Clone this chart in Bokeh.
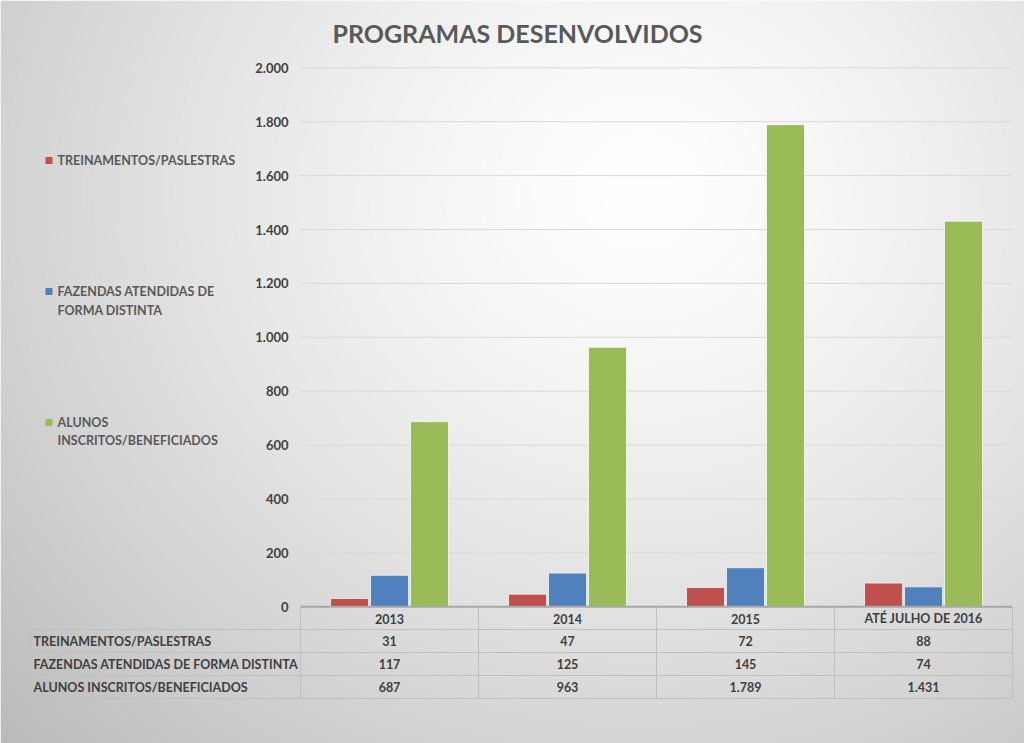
import numpy as np
from bokeh.plotting import figure
from bokeh.models import Range1d
from bokeh.core.properties import value
from bokeh.embed import file_html
from bokeh.resources import INLINE

# ---------------- data ----------------
categories = ["2013", "2014", "2015", "ATÉ JULHO DE 2016"]
series_names = ["TREINAMENTOS/PASLESTRAS", "FAZENDAS ATENDIDAS DE FORMA DISTINTA", "ALUNOS INSCRITOS/BENEFICIADOS"]
treinamentos = [31, 47, 72, 88]
fazendas = [117, 125, 145, 74]
alunos = [687, 963, 1789, 1431]
y_ticks = [0, 200, 400, 600, 800, 1000, 1200, 1400, 1600, 1800, 2000]
legend_lines = [["TREINAMENTOS/PASLESTRAS"], ["FAZENDAS ATENDIDAS DE", "FORMA DISTINTA"], ["ALUNOS", "INSCRITOS/BENEFICIADOS"]]
title_text = "PROGRAMAS DESENVOLVIDOS"

# ---------------- layout ----------------
W, H = 1024, 743
OFF = 0
colors = ["#C0504D", "#4F81BD", "#9BBB59"]
FONT = value("Lato")
TXT = "#404040"
FS = "12.5px"


def X(xr):
    return xr - OFF


def Y(yr):
    return H - (yr - OFF)


COL0 = 300      # reference x of category 0 left edge
COLW = 178.0    # width of a category column
ZERO_Y = 606.3  # reference y of value 0
TOP_Y = 67.3    # reference y of value 2000
pxu = (ZERO_Y - TOP_Y) / 2000.0

p = figure(width=W, height=H, x_range=Range1d(0, W), y_range=Range1d(0, H),
           x_axis_type=None, y_axis_type=None, output_backend="svg",
           toolbar_location=None, min_border=0, outline_line_color=None)
p.background_fill_color = None
p.border_fill_color = "white"

p.extra_x_ranges = {"cat": Range1d(-X(COL0) / COLW, (W - X(COL0)) / COLW)}
zb = Y(ZERO_Y)
p.extra_y_ranges = {"val": Range1d(-zb / pxu, (H - zb) / pxu)}

# background radial gradient
yy, xx = np.mgrid[0:H, 0:W]
ref_x = xx + OFF
ref_y = (H - 1 - yy) + OFF
cx, cy = 640.0, 190.0
r = np.sqrt(((ref_x - cx) / 1.0) ** 2 + ((ref_y - cy) / 0.9) ** 2)
v = 255 - 62 * np.clip(r / 820.0, 0, 1.3) ** 1.35
v = np.clip(v, 0, 255).astype(np.uint32)
img = np.empty((H, W), dtype=np.uint32)
view = img.view(dtype=np.uint8).reshape((H, W, 4))
view[:, :, 0] = v
view[:, :, 1] = v
view[:, :, 2] = v
view[:, :, 3] = 255
p.image_rgba(image=[img], x=0, y=0, dw=W, dh=H)

# title
p.text(x=[X(517)], y=[Y(32)], text=[title_text], text_font=FONT, text_font_size="25px",
       text_font_style="bold", text_color="#595959", text_align="center", text_baseline="middle")

# gridlines
grid_vals = [t for t in y_ticks if t > 0]
p.segment(x0=[0] * len(grid_vals), x1=[4] * len(grid_vals), y0=grid_vals, y1=grid_vals,
          x_range_name="cat", y_range_name="val", line_color="#d9d9d9", line_width=1)

# tick labels
p.text(x=[X(288)] * len(y_ticks), y=y_ticks, text=[f"{t:,}".replace(",", ".") for t in y_ticks],
       y_range_name="val", text_font=FONT, text_font_size="13px", text_font_style="bold",
       text_color=TXT, text_align="right", text_baseline="middle")

# bars
series = [treinamentos, fazendas, alunos]
bw = 38 / COLW
offs = [-40 / COLW, 0, 40 / COLW]
for s, c, o in zip(series, colors, offs):
    xs = [i + 0.5 + o for i in range(len(categories))]
    p.vbar(x=xs, top=s, bottom=0, width=bw, x_range_name="cat", y_range_name="val",
           fill_color=c, line_color="white", line_alpha=0.7, line_width=1)

# zero / table top line
p.segment(x0=[0], x1=[4], y0=[0], y1=[0], x_range_name="cat", y_range_name="val",
          line_color="#a6a6a6", line_width=2)

# table lines
TL = "#bfbfbf"
row_lines = [629, 652, 675, 698]
p.segment(x0=[X(29)] * len(row_lines), x1=[X(1012)] * len(row_lines),
          y0=[Y(r_) for r_ in row_lines], y1=[Y(r_) for r_ in row_lines], line_color=TL, line_width=1)
p.segment(x0=[X(29)], x1=[X(29)], y0=[Y(629)], y1=[Y(698)], line_color=TL, line_width=1)
bounds = list(range(len(categories) + 1))
p.segment(x0=bounds, x1=bounds, y0=[Y(606)] * len(bounds), y1=[Y(698)] * len(bounds),
          x_range_name="cat", line_color=TL, line_width=1)

# table text
centers = [i + 0.5 for i in range(len(categories))]
row_y = [Y(618), Y(640.5), Y(663.5), Y(686.5)]
p.text(x=centers, y=[row_y[0]] * len(categories), text=categories, x_range_name="cat",
       text_font=FONT, text_font_size=FS, text_font_style="bold", text_color=TXT,
       text_align="center", text_baseline="middle")
for k, s in enumerate(series):
    p.text(x=centers, y=[row_y[k + 1]] * len(s), text=[f"{v_:,}".replace(",", ".") for v_ in s],
           x_range_name="cat", text_font=FONT, text_font_size=FS, text_font_style="bold",
           text_color=TXT, text_align="center", text_baseline="middle")
p.text(x=[X(33)] * 3, y=row_y[1:], text=series_names, text_font=FONT, text_font_size=FS,
       text_font_style="bold", text_color=TXT, text_align="left", text_baseline="middle")

# legend
leg_y = [[160], [291, 310], [422, 440]]
for lines, ys, c in zip(legend_lines, leg_y, colors):
    p.rect(x=[X(48.5)], y=[Y(ys[0])], width=7, height=7, fill_color=c, line_color=None)
    p.text(x=[X(57)] * len(lines), y=[Y(yv) for yv in ys], text=lines, text_font=FONT,
           text_font_size=FS, text_font_style="bold", text_color="#595959",
           text_align="left", text_baseline="middle")

open("out.html", "w").write(file_html(p, INLINE))
